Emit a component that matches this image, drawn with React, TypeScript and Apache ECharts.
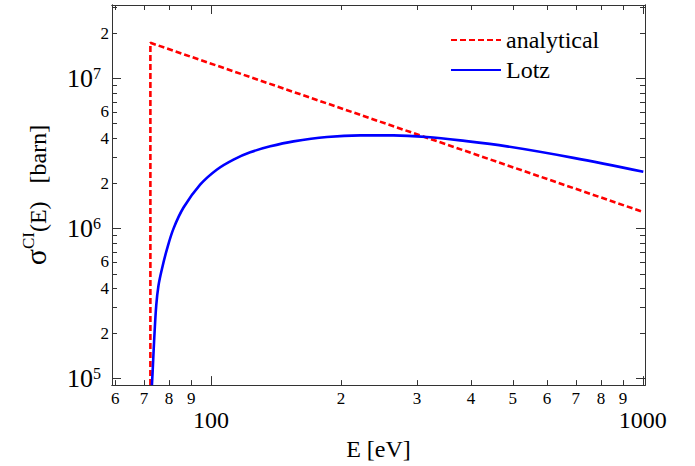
import React, { useEffect, useRef } from 'react';
import * as echarts from 'echarts';

const X_MIN = 59;
const X_MAX = 1012;
const Y_MIN = 9.07e4;
const Y_MAX = 3.09e7;

const xMajorTicks = [100, 1000];
const xMinorTicks = [60, 70, 80, 90, 200, 300, 400, 500, 600, 700, 800, 900];
const yMajorTicks = [1e5, 1e6, 1e7];
const yMinorTicks = [2e5, 3e5, 4e5, 5e5, 6e5, 7e5, 8e5, 9e5, 2e6, 3e6, 4e6, 5e6, 6e6, 7e6, 8e6, 9e6, 2e7, 3e7];
const yMinorLabels = [2e5, 4e5, 6e5, 2e6, 4e6, 6e6, 2e7];

const analyticalE = [72.4, 72.4, 1003];
const analyticalSigma = [9.07e4, 1.73e7, 1.29e6];

const lotzE = [73.0, 73.4, 73.9, 74.7, 75.6, 77.0, 79.1, 81.9, 86.4, 94.5, 103.3, 112.8, 123.3, 137.2, 155.3, 185.6, 221.6, 264.7, 316.2, 377.6, 484.5, 691, 1003];
const lotzSigma = [9.07e4, 1.234e5, 1.854e5, 3.08e5, 4.18e5, 5.39e5, 7.31e5, 1.0e6, 1.382e6, 1.97e6, 2.48e6, 2.886e6, 3.226e6, 3.534e6, 3.815e6, 4.08e6, 4.18e6, 4.18e6, 4.08e6, 3.873e6, 3.534e6, 2.962e6, 2.392e6];

const FONT = "'Liberation Serif', 'Times New Roman', Times, serif";
const AXIS_COLOR = '#333';

function leadDigit(v: number): string {
  const p = Math.pow(10, Math.floor(Math.log10(v) + 1e-9));
  return String(Math.round(v / p));
}
function expOf(v: number): number {
  return Math.round(Math.log10(v));
}

function makeAxis(kind: 'x' | 'y', position: string, ticks: number[], len: number, labels: number[] | null, labelOpts: any, extra: any = {}) {
  return {
    type: 'log',
    logBase: 10,
    position,
    min: kind === 'x' ? X_MIN : Y_MIN,
    max: kind === 'x' ? X_MAX : Y_MAX,
    splitLine: { show: false },
    axisLine: { show: true, onZero: false, lineStyle: { color: AXIS_COLOR, width: 1 } },
    axisTick: { show: true, inside: true, length: len, customValues: ticks, lineStyle: { color: AXIS_COLOR, width: 1 } },
    axisLabel: labels
      ? { show: true, customValues: labels, fontFamily: FONT, color: '#000', ...labelOpts }
      : { show: false },
    ...extra,
  };
}

export default function App() {
  const ref = useRef<HTMLDivElement>(null);
  useEffect(() => {
    if (!ref.current) return;
    const chart = echarts.init(ref.current, null, { renderer: 'svg' });
    const option: any = {
      animation: false,
      backgroundColor: '#fff',
      grid: { left: 112, right: 50, top: 5, bottom: 79, containLabel: false },
      legend: {
        orient: 'vertical',
        left: 445,
        top: 23,
        itemWidth: 50,
        itemHeight: 14,
        itemGap: 6,
        itemStyle: { opacity: 0 },
        textStyle: { fontFamily: FONT, fontSize: 24, lineHeight: 24, color: '#000' },
        data: ['analytical', 'Lotz'],
      },
      xAxis: [
        makeAxis('x', 'bottom', xMajorTicks, 9, xMajorTicks, { fontSize: 24, margin: 23, formatter: (v: number) => String(Math.round(v)) }, {
          name: 'E [eV]',
          nameLocation: 'middle',
          nameGap: 49,
          nameTextStyle: { fontFamily: FONT, fontSize: 24, color: '#000' },
        }),
        makeAxis('x', 'bottom', xMinorTicks, 5, xMinorTicks, { fontSize: 17, margin: 5, formatter: (v: number) => leadDigit(v) }),
        makeAxis('x', 'top', xMajorTicks, 9, null, {}),
        makeAxis('x', 'top', xMinorTicks, 5, null, {}),
      ],
      yAxis: [
        makeAxis('y', 'left', yMajorTicks, 9, yMajorTicks, {
          margin: 11,
          formatter: (v: number) => '{b|10}{s|' + expOf(v) + '}',
          rich: {
            b: { fontFamily: FONT, fontSize: 26, color: '#000', verticalAlign: 'bottom' },
            s: { fontFamily: FONT, fontSize: 16, color: '#000', verticalAlign: 'top' },
          },
        }, {
          name: '{g|σ}{sup|CI}{t|(E)   [barn]}',
          nameLocation: 'middle',
          nameRotate: 90,
          nameGap: 62,
          nameTextStyle: {
            rich: {
              g: { fontFamily: FONT, fontSize: 30, color: '#000', verticalAlign: 'bottom' },
              sup: { fontFamily: FONT, fontSize: 17, color: '#000', verticalAlign: 'top' },
              t: { fontFamily: FONT, fontSize: 24, color: '#000', verticalAlign: 'bottom' },
            },
          },
        }),
        makeAxis('y', 'left', yMinorTicks, 5, yMinorLabels, { fontSize: 17, margin: 3, formatter: (v: number) => leadDigit(v) }),
        makeAxis('y', 'right', yMajorTicks, 9, null, {}),
        makeAxis('y', 'right', yMinorTicks, 5, null, {}),
      ],
      series: [
        {
          name: 'analytical',
          type: 'line',
          xAxisIndex: 0,
          yAxisIndex: 0,
          data: analyticalE.map((e, i) => [e, analyticalSigma[i]]),
          symbol: 'none',
          clip: true,
          lineStyle: { color: '#ff0000', width: 2.6, type: [6, 3] },
          itemStyle: { color: '#ff0000' },
        },
        {
          name: 'Lotz',
          type: 'line',
          xAxisIndex: 0,
          yAxisIndex: 0,
          data: lotzE.map((e, i) => [e, lotzSigma[i]]),
          symbol: 'none',
          smooth: 0.35,
          clip: true,
          lineStyle: { color: '#0000ff', width: 2.6 },
          itemStyle: { color: '#0000ff' },
        },
      ],
    };
    chart.setOption(option);
    return () => chart.dispose();
  }, []);
  return <div ref={ref} style={{ width: 695, height: 466, position: 'absolute', left: 0, top: 0 }} />;
}
